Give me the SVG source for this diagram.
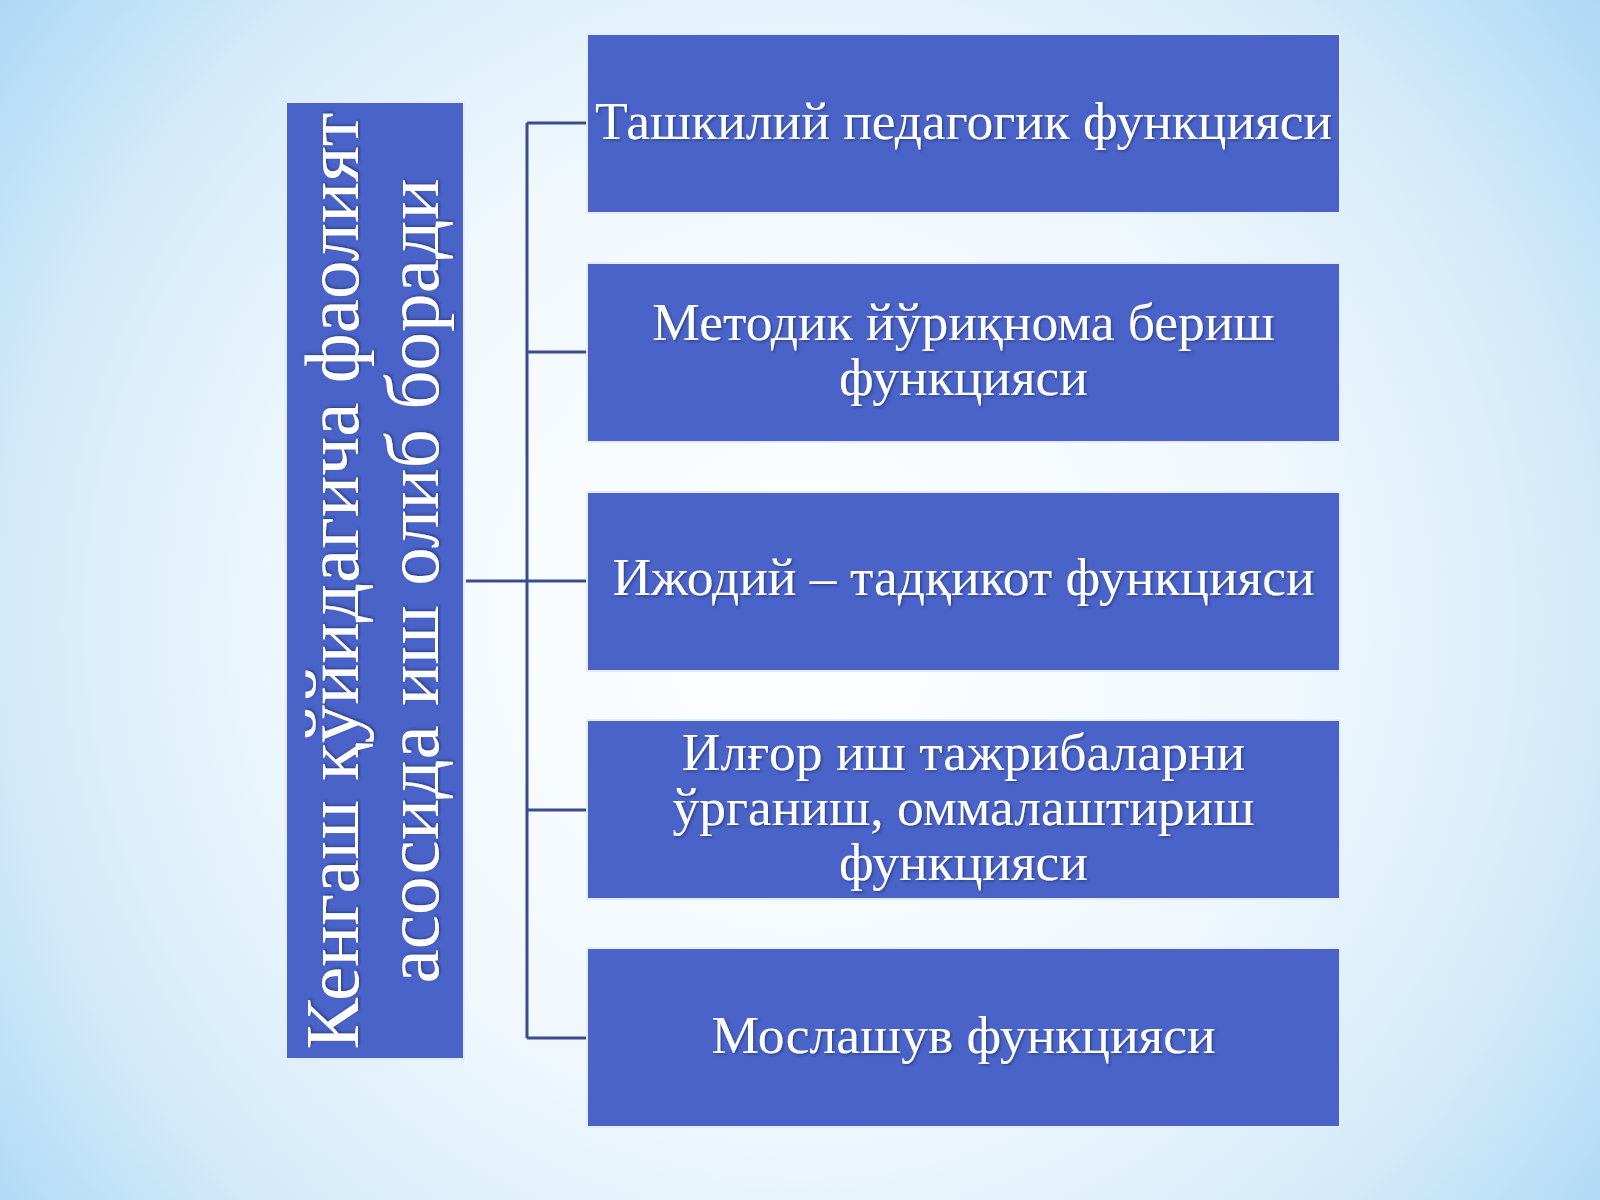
<svg xmlns="http://www.w3.org/2000/svg" width="1600" height="1200" viewBox="0 0 1600 1200">
  <defs>
    <radialGradient id="bg" cx="800" cy="620" r="1100" gradientUnits="userSpaceOnUse">
      <stop offset="0" stop-color="#ffffff"/>
      <stop offset="0.45" stop-color="#f0f8fd"/>
      <stop offset="0.72" stop-color="#d3eaf9"/>
      <stop offset="1" stop-color="#9fd2f3"/>
    </radialGradient>
    <filter id="sh" x="-5%" y="-20%" width="110%" height="140%">
      <feDropShadow dx="1.5" dy="1.5" stdDeviation="1.2" flood-color="#1a2a6a" flood-opacity="0.6"/>
    </filter>
  </defs>
  <style>
    .box { fill: #4a63c8; stroke: #e4ecf8; stroke-width: 2; }
    .lbl { font-family: "Liberation Serif", "Times New Roman", serif; fill: #ffffff; text-anchor: middle; filter: url(#sh); }
    .r { font-size: 53.5px; }
    .v { font-size: 77px; }
    .conn { fill: none; stroke: #3b4c8e; stroke-width: 3; }
  </style>
  <rect x="0" y="0" width="1600" height="1200" fill="url(#bg)"/>

  <g id="connectors">
    <path class="conn" d="M466,581 H587"/>
    <path class="conn" d="M527,123 V1038"/>
    <path class="conn" d="M527,123 H587"/>
    <path class="conn" d="M527,352 H587"/>
    <path class="conn" d="M527,810 H587"/>
    <path class="conn" d="M527,1038 H587"/>
  </g>

  <g id="node-main">
    <rect class="box" x="286" y="102" width="178" height="957"/>
    <text class="lbl v" transform="translate(358,581) rotate(-90)" x="0" y="0" textLength="937" lengthAdjust="spacing">Кенгаш қўйидагича фаолият</text>
    <text class="lbl v" transform="translate(438,581) rotate(-90)" x="0" y="0" textLength="805" lengthAdjust="spacing">асосида иш олиб боради</text>
  </g>

  <g id="node-1">
    <rect class="box" x="587" y="34" width="753" height="179"/>
    <text class="lbl r" x="963.5" y="139">Ташкилий педагогик функцияси</text>
  </g>

  <g id="node-2">
    <rect class="box" x="587" y="263" width="753" height="179"/>
    <text class="lbl r" x="963.5" y="340">Методик йўриқнома бериш</text>
    <text class="lbl r" x="963.5" y="395">функцияси</text>
  </g>

  <g id="node-3">
    <rect class="box" x="587" y="492" width="753" height="179"/>
    <text class="lbl r" x="963.5" y="595">Ижодий – тадқикот функцияси</text>
  </g>

  <g id="node-4">
    <rect class="box" x="587" y="720" width="753" height="179"/>
    <text class="lbl r" x="963.5" y="770">Илғор иш тажрибаларни</text>
    <text class="lbl r" x="963.5" y="825">ўрганиш, оммалаштириш</text>
    <text class="lbl r" x="963.5" y="880">функцияси</text>
  </g>

  <g id="node-5">
    <rect class="box" x="587" y="948" width="753" height="179"/>
    <text class="lbl r" x="963.5" y="1053">Мослашув функцияси</text>
  </g>
</svg>
